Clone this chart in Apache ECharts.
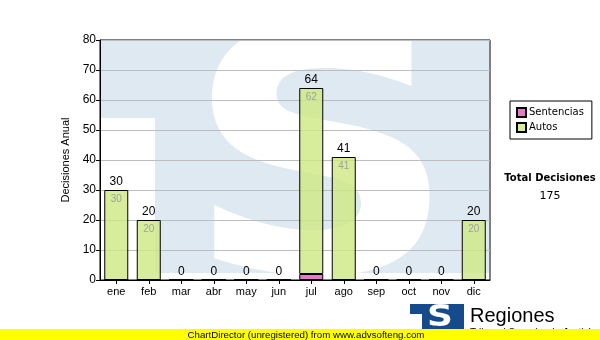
<!DOCTYPE html>
<html><head><meta charset="utf-8">
<script src="https://cdn.jsdelivr.net/npm/echarts@6/dist/echarts.min.js"></script>
<style>html,body{margin:0;padding:0;background:#fff}#c{width:600px;height:340px}</style>
</head><body><div id="c"></div>
<script>
const months = ['ene','feb','mar','abr','may','jun','jul','ago','sep','oct','nov','dic'];
const sentencias = [0,0,0,0,0,0,2,0,0,0,0,0];
const autos = [30,20,0,0,0,0,62,41,0,0,0,20];
const yTicks = {min:0, max:80, interval:10};
const totals = months.map((m,i)=>sentencias[i]+autos[i]);
const grand = totals.reduce((a,b)=>a+b,0);

const chart = echarts.init(document.getElementById('c'), null, {renderer:'canvas'});
const lbl = '"Liberation Sans", Arial, sans-serif';
const vfont = '"DejaVu Sans", Verdana, sans-serif';
chart.setOption({
  animation:false,
  backgroundColor:'#fff',
  grid:{left:100,right:110,top:40,bottom:60,show:true,borderColor:'#000',borderWidth:1,backgroundColor:'transparent'},
  graphic:[
    {type:'rect',z:-10,silent:true,shape:{x:101,y:41,width:388,height:232},style:{fill:'#dfe9f2'}},
    {type:'rect',z:-9,silent:true,shape:{x:101,y:118,width:54,height:155},style:{fill:'#fff'}},
    {type:'text',z:-8,silent:true,x:321,y:184,scaleX:1.13,style:{text:'S',font:'bold 335px "DejaVu Sans"',fill:'#fff',align:'center',verticalAlign:'middle'}},
    {type:'text',x:550,y:178,style:{text:'Total Decisiones',font:'bold 10px '+vfont,fill:'#000',align:'center',verticalAlign:'middle'}},
    {type:'text',x:550,y:196,style:{text:String(grand),font:'11px '+vfont,fill:'#000',align:'center',verticalAlign:'middle'}},
    {type:'text',x:470,y:333,style:{text:'Tribunal Superior de Justicia',font:'10px '+lbl,fill:'#000',align:'left',verticalAlign:'middle'},z:9},
    {type:'rect',shape:{x:0,y:329,width:600,height:11},style:{fill:'#ffff00'},z:12},
    {type:'text',x:306,y:335,style:{text:'ChartDirector (unregistered) from www.advsofteng.com',font:'9.7px '+lbl,fill:'#000',align:'center',verticalAlign:'middle'},z:20},
    {type:'rect',shape:{x:410,y:304,width:54,height:26},style:{fill:'#154a8c'},z:10},
    {type:'rect',shape:{x:410,y:314,width:12,height:16},style:{fill:'#fff'},z:11},
    {type:'text',x:440,y:318,scaleX:1.2,style:{text:'S',font:'bold 30px "DejaVu Sans"',fill:'#fff',align:'center',verticalAlign:'middle'},z:11},
    {type:'text',x:470,y:316,style:{text:'Regiones',font:'20px '+lbl,fill:'#000',align:'left',verticalAlign:'middle'},z:10}
  ],
  legend:{
    orient:'vertical',left:510,top:101,
    data:['Sentencias','Autos'],
    itemWidth:9,itemHeight:9,itemGap:4,
    padding:[6,8,6,6],
    borderColor:'#000',borderWidth:1,backgroundColor:'#fff',
    icon:'rect',
    textStyle:{fontFamily:vfont,fontSize:10,color:'#000',padding:[0,0,0,-2]}
  },
  xAxis:{
    type:'category',data:months,
    axisLine:{lineStyle:{color:'#000',width:1}},
    axisTick:{show:true,alignWithLabel:true,length:4,lineStyle:{color:'#000'}},
    axisLabel:{fontFamily:lbl,fontSize:11,color:'#000',margin:6}
  },
  yAxis:{
    type:'value',min:yTicks.min,max:yTicks.max,interval:yTicks.interval,
    name:'Decisiones Anual',nameLocation:'middle',nameGap:23,
    nameTextStyle:{fontFamily:lbl,fontSize:11,color:'#000'},
    axisLine:{show:true,lineStyle:{color:'#000'}},
    axisTick:{show:true,length:4,lineStyle:{color:'#000'}},
    axisLabel:{fontFamily:lbl,fontSize:12,color:'#000',margin:4},
    splitLine:{lineStyle:{color:'#bdbdbd',width:1}}
  },
  series:[
    {name:'Sentencias',type:'bar',stack:'t',data:sentencias,barWidth:24,
     itemStyle:{color:'#e07dc6',borderColor:'#000',borderWidth:1}},
    {name:'Autos',type:'bar',stack:'t',data:autos,barWidth:24,
     itemStyle:{color:'rgba(205,232,130,0.8)',borderColor:'#000',borderWidth:1},
     label:{show:true,position:'insideTop',distance:4,fontFamily:lbl,fontSize:10,color:'#a0a0a0',
       formatter:p=>p.value>0?String(p.value):''}},
    {name:'tot',type:'bar',stack:'t',data:months.map(()=>0),barWidth:24,
     itemStyle:{color:'transparent'},
     label:{show:true,position:'top',distance:2,fontFamily:lbl,fontSize:12,color:'#000',
       formatter:p=>String(totals[p.dataIndex])}}
  ]
});
</script></body></html>
